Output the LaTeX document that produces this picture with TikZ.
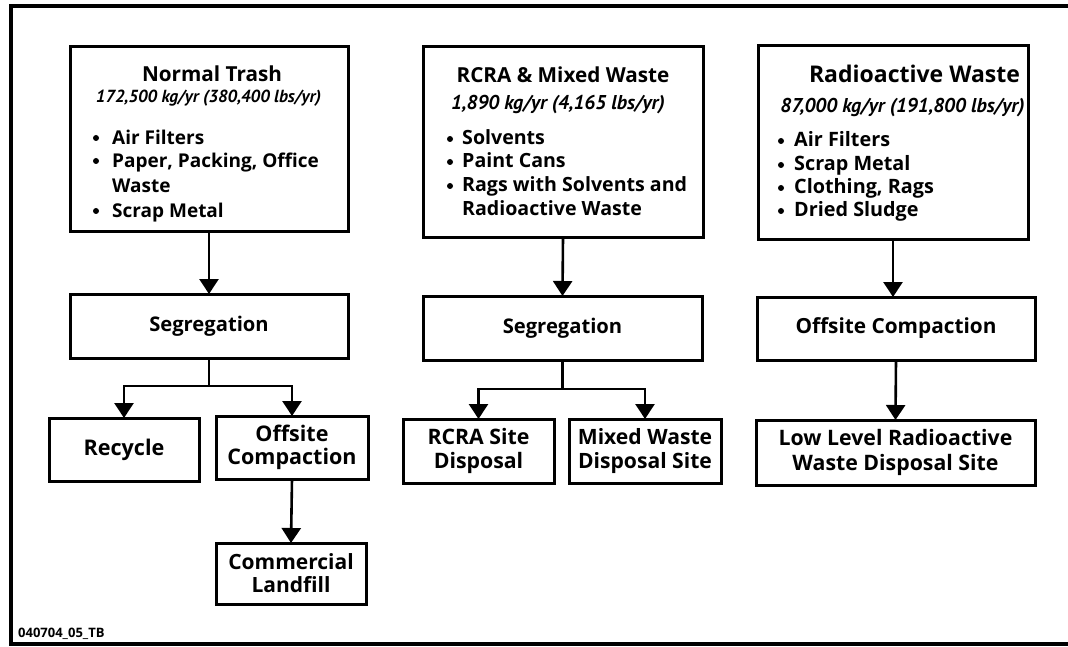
\documentclass[tikz,border=0pt]{standalone}
\usepackage{fontspec}
\setmainfont{Open Sans}
\newfontfamily\subfont{PT Sans}
\usetikzlibrary{arrows.meta}
\begin{document}
\begin{tikzpicture}[x=1pt,y=-1pt,
  box/.style={draw, line width=3pt, inner sep=0pt, outer sep=0pt, fill=white},
  arr/.style={line width=2.6pt, -{Triangle[length=15pt,width=19pt]}},
  ttl/.style={anchor=base, inner sep=0pt, font=\fontsize{20.7}{24}\selectfont\bfseries},
  sub/.style={anchor=base, inner sep=0pt, font=\subfont\fontsize{17.5}{20}\selectfont\bfseries\itshape},
  itm/.style={anchor=base west, inner sep=0pt, font=\fontsize{19}{22}\selectfont\bfseries},
  bul/.style={circle, fill, inner sep=0pt, minimum size=6pt},
  lbl/.style={font=\fontsize{21.3}{24}\selectfont\bfseries, align=center},
  frame/.style={line width=3.5pt}
]
\useasboundingbox (0,0) rectangle (1068,647);
% frame (open at right, cut off)
\draw[frame] (1075,6) -- (11,6) -- (11,644) -- (1075,644);

% ---------- column 1 ----------
\node[box, minimum width=278pt, minimum height=185pt] (b1) at (209,139.5) {};
\node[ttl] (b1t) at (212,82) {Normal Trash};
\node[sub] (b1s) at (208.5,103) {172,500 kg/yr (380,400 lbs/yr)};
\node[bul] (b1p1) at (96,138) {};
\node[itm] (b1i1) at (112,145) {Air Filters};
\node[bul] (b1p2) at (96,161) {};
\node[itm] (b1i2) at (112,168) {Paper, Packing, Office};
\node[itm] (b1i3) at (112,193) {Waste};
\node[bul] (b1p4) at (96,211) {};
\node[itm] (b1i4) at (112,218) {Scrap Metal};

\node[box, lbl, font=\fontsize{20.2}{23}\selectfont\bfseries, minimum width=278pt, minimum height=64pt] (s1) at (209,326) {Segregation};
\node[box, lbl, font=\fontsize{21.6}{23}\selectfont\bfseries, minimum width=150pt, minimum height=63pt] (rec) at (124,449.5) {Recycle};
\node[box, lbl, font=\fontsize{21.5}{23}\selectfont\bfseries, minimum width=152pt, minimum height=63pt] (off1) at (292,447.5) {Offsite\\Compaction};
\node[box, lbl, font=\fontsize{21}{23}\selectfont\bfseries, minimum width=150pt, minimum height=61pt] (land) at (291,573.5) {Commercial\\Landfill};
\coordinate (j1) at (209,386);

\draw[arr] (b1.south) -- (s1.north);
\draw[arr] (s1.south) -- (j1) -| (rec.north);
\draw[arr] (j1) -| (off1.north);
\draw[arr] (off1.south) -- (land.north);

% ---------- column 2 ----------
\node[box, minimum width=280pt, minimum height=190pt] (b2) at (563,142) {};
\node[ttl] (b2t) at (563,83) {RCRA \& Mixed Waste};
\node[sub, font=\subfont\fontsize{20}{22}\selectfont\bfseries\itshape] (b2s) at (558,110) {1,890 kg/yr (4,165 lbs/yr)};
\node[bul] (b2p1) at (450,139) {};
\node[itm, font=\fontsize{19.6}{22}\selectfont\bfseries] (b2i1) at (462,145) {Solvents};
\node[bul] (b2p2) at (450,162) {};
\node[itm, font=\fontsize{19.6}{22}\selectfont\bfseries] (b2i2) at (462,168) {Paint Cans};
\node[bul] (b2p3) at (450,186) {};
\node[itm, font=\fontsize{19.6}{22}\selectfont\bfseries] (b2i3) at (462,192) {Rags with Solvents and};
\node[itm, font=\fontsize{19.6}{22}\selectfont\bfseries] (b2i4) at (462,216) {Radioactive Waste};

\node[box, lbl, font=\fontsize{20.2}{23}\selectfont\bfseries, minimum width=279pt, minimum height=64pt] (s2) at (562.5,328) {Segregation};
\node[box, lbl, minimum width=151pt, minimum height=64pt] (rcra) at (478.5,451) {RCRA Site\\Disposal};
\node[box, lbl, font=\fontsize{21.1}{24}\selectfont\bfseries, minimum width=152pt, minimum height=64pt] (mix) at (645,451) {Mixed Waste\\Disposal Site};
\coordinate (j2) at (562.5,389);

\draw[arr] (b2.south) -- (s2.north);
\draw[arr] (s2.south) -- (j2) -| (rcra.north);
\draw[arr] (j2) -| (mix.north);

% ---------- column 3 ----------
\node[box, minimum width=270pt, minimum height=193pt] (b3) at (893,142.5) {};
\node[ttl, font=\fontsize{23}{25}\selectfont\bfseries] (b3t) at (914.5,83) {Radioactive Waste};
\node[sub, font=\subfont\fontsize{20}{22}\selectfont\bfseries\itshape] (b3s) at (902.5,113) {87,000 kg/yr (191,800 lbs/yr)};
\node[bul] (b3p1) at (781,141) {};
\node[itm, font=\fontsize{19.8}{22}\selectfont\bfseries] (b3i1) at (794,147) {Air Filters};
\node[bul] (b3p2) at (781,165) {};
\node[itm, font=\fontsize{19.8}{22}\selectfont\bfseries] (b3i2) at (794,171) {Scrap Metal};
\node[bul] (b3p3) at (781,188) {};
\node[itm, font=\fontsize{19.8}{22}\selectfont\bfseries] (b3i3) at (794,194) {Clothing, Rags};
\node[bul] (b3p4) at (781,211) {};
\node[itm, font=\fontsize{19.8}{22}\selectfont\bfseries] (b3i4) at (794,217) {Dried Sludge};

\node[box, lbl, font=\fontsize{20.8}{24}\selectfont\bfseries, minimum width=278pt, minimum height=63pt] (s3) at (896,328.5) {Offsite Compaction};
\node[box, lbl, font=\fontsize{21.3}{25}\selectfont\bfseries, minimum width=279pt, minimum height=65pt] (llw) at (895.5,452.5) {Low Level Radioactive\\Waste Disposal Site};

\draw[arr] (b3.south) -- (b3.south |- s3.north);
\draw[arr] (s3.south) -- (llw.north);

% label
\node[anchor=base west, inner sep=0pt, font=\fontsize{13}{14}\selectfont\bfseries] (code) at (18,637) {040704\_05\_TB};
\end{tikzpicture}
\end{document}
